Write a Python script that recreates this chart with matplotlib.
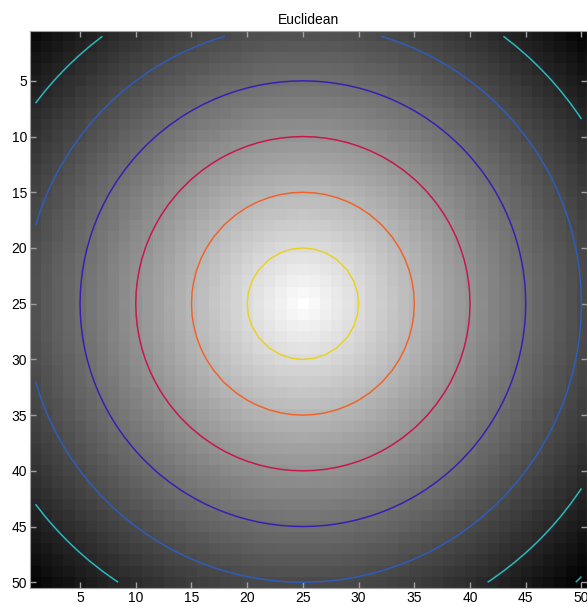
import numpy as np
import matplotlib.pyplot as plt

plt.rcParams['font.family'] = ['Liberation Sans', 'DejaVu Sans']

# grid of 50x50 cells, distance measured from the centre cell
size = 50
centre = (25, 25)
levels = [5, 10, 15, 20, 25, 30, 35]
line_colors = ['#e8d228', '#f0642a', '#c8174a', '#3a1eb4', '#2e5cba', '#2ab8c0', '#2ab0b8']
ticks = [5, 10, 15, 20, 25, 30, 35, 40, 45, 50]

xs = np.arange(1, size + 1)
ys = np.arange(1, size + 1)
X, Y = np.meshgrid(xs, ys)
D = np.sqrt((X - centre[0]) ** 2 + (Y - centre[1]) ** 2)   # Euclidean distance

fig = plt.figure(figsize=(5.87, 6.07), dpi=100)
ax = fig.add_axes([0.051, 0.030, 0.949, 0.921])

ax.imshow(D, cmap='gray_r', interpolation='nearest',
          extent=(0.5, size + 0.5, size + 0.5, 0.5), vmin=0, vmax=D.max())
ax.contour(X, Y, D, levels=levels, colors=line_colors, linewidths=1.1)

ax.set_xlim(0.5, size + 0.5)
ax.set_ylim(size + 0.5, 0.5)
ax.set_xticks(ticks)
ax.set_yticks(ticks)
ax.tick_params(direction='in', top=True, right=True, length=4, width=1,
               color='#a0a0a0', labelsize=10, pad=2)
for s in ax.spines.values():
    s.set_color('#a0a0a0')
ax.set_title('Euclidean', fontsize=10, pad=5)

fig.savefig('out.png', dpi=100)
